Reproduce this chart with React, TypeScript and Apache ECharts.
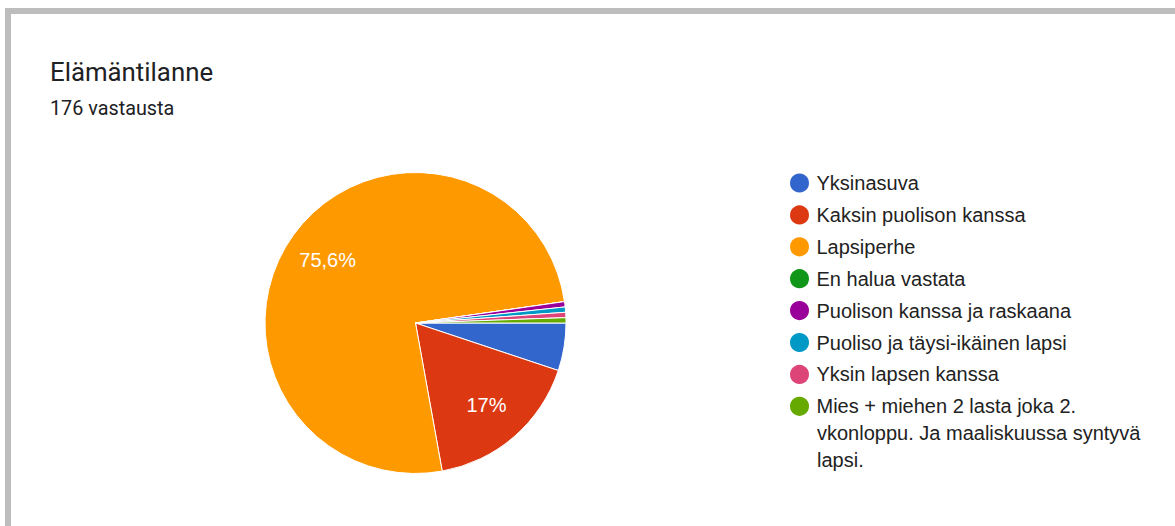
import React, { useEffect, useRef } from "react";
import * as echarts from "echarts";

const TITLE = "Elämäntilanne";
const SUBTITLE = "176 vastausta";

const LONG_LABEL_LINES = [
  "Mies + miehen 2 lasta joka 2.",
  "vkonloppu. Ja maaliskuussa syntyvä",
  "lapsi.",
];
const LONG_LABEL = LONG_LABEL_LINES.join(" ");

const categories = [
  "Yksinasuva",
  "Kaksin puolison kanssa",
  "Lapsiperhe",
  "En halua vastata",
  "Puolison kanssa ja raskaana",
  "Puoliso ja täysi-ikäinen lapsi",
  "Yksin lapsen kanssa",
  LONG_LABEL,
];
const counts = [9, 30, 133, 0, 1, 1, 1, 1];
const colors = [
  "#3366cc",
  "#dc3912",
  "#ff9900",
  "#109618",
  "#990099",
  "#0099c6",
  "#dd4477",
  "#66aa00",
];

const total = counts.reduce((a, b) => a + b, 0);

function fmtPct(v: number): string {
  const p = (v / total) * 100;
  let s = p.toFixed(1);
  if (s.endsWith(".0")) s = s.slice(0, -2);
  return s.replace(".", ",") + "%";
}

export default function App() {
  const ref = useRef<HTMLDivElement>(null);
  useEffect(() => {
    if (!ref.current) return;
    const chart = echarts.init(ref.current, null, { renderer: "svg" });
    const cx = 415.5;
    const cy = 323;
    const r = 150.5;
    const legendFont = "Liberation Sans, Arial, sans-serif";
    const legendLeft = 788;
    const legendTop = 171.5;
    const rowH = 21;
    const itemBoxH = 23;
    const rowGap = 8.9;
    const textX = legendLeft + 24 + 5;
    const lastRowCenter =
      legendTop + itemBoxH / 2 + (categories.length - 1) * (itemBoxH + rowGap);
    const extraLineH = 27;
    const data = categories.map((name, i) => ({
      name,
      value: counts[i],
      itemStyle: { color: colors[i] },
    }));
    chart.setOption({
      animation: false,
      backgroundColor: "#ffffff",
      title: {
        text: TITLE,
        subtext: SUBTITLE,
        left: 50,
        top: 59,
        padding: 0,
        itemGap: 13,
        textStyle: {
          fontFamily: "Roboto",
          fontSize: 25.8,
          fontWeight: "normal",
          color: "#202124",
        },
        subtextStyle: {
          fontFamily: "Roboto",
          fontSize: 19.8,
          color: "#202124",
        },
      },
      legend: {
        orient: "vertical",
        left: legendLeft,
        top: legendTop,
        height: 400,
        padding: 0,
        itemWidth: 24,
        itemHeight: rowH,
        itemGap: rowGap,
        icon: "circle",
        selectedMode: false,
        textStyle: {
          fontFamily: legendFont,
          fontSize: 20,
          color: "#222222",
        },
        data: categories,
        formatter: (name: string) =>
          name === LONG_LABEL ? LONG_LABEL_LINES[0] : name,
      },
      graphic: [
        {
          type: "rect",
          silent: true,
          shape: { x: 8, y: 11, width: 1300, height: 700 },
          style: { fill: "none", stroke: "#bdbdbd", lineWidth: 6 },
        },
        ...LONG_LABEL_LINES.slice(1).map((line, i) => ({
          type: "text",
          silent: true,
          x: textX,
          y: lastRowCenter + (i + 1) * extraLineH,
          style: {
            text: line,
            fontFamily: legendFont,
            fontSize: 20,
            fill: "#222222",
            verticalAlign: "middle",
          },
        })),
      ],
      series: [
        {
          type: "pie",
          center: [cx, cy],
          radius: r,
          startAngle: 0,
          clockwise: true,
          silent: true,
          label: { show: false },
          labelLine: { show: false },
          itemStyle: { borderColor: "#ffffff", borderWidth: 1 },
          emphasis: { disabled: true },
          data,
        },
        {
          type: "pie",
          center: [cx, cy],
          radius: [r * 0.4, r],
          startAngle: 0,
          clockwise: true,
          silent: true,
          legendHoverLink: false,
          itemStyle: { color: "rgba(0,0,0,0)", borderWidth: 0 },
          emphasis: { disabled: true },
          labelLine: { show: false },
          label: {
            show: true,
            position: "inside",
            color: "#ffffff",
            fontFamily: legendFont,
            fontSize: 20,
            formatter: (p: any) =>
              (p.value / total) * 100 >= 10 ? fmtPct(p.value) : "",
          },
          data: categories.map((name, i) => ({ name, value: counts[i] })),
        },
      ],
    });
    return () => chart.dispose();
  }, []);
  return (
    <div
      ref={ref}
      style={{
        position: "fixed",
        left: 0,
        top: 0,
        width: 1175,
        height: 526,
        background: "#fff",
      }}
    />
  );
}
